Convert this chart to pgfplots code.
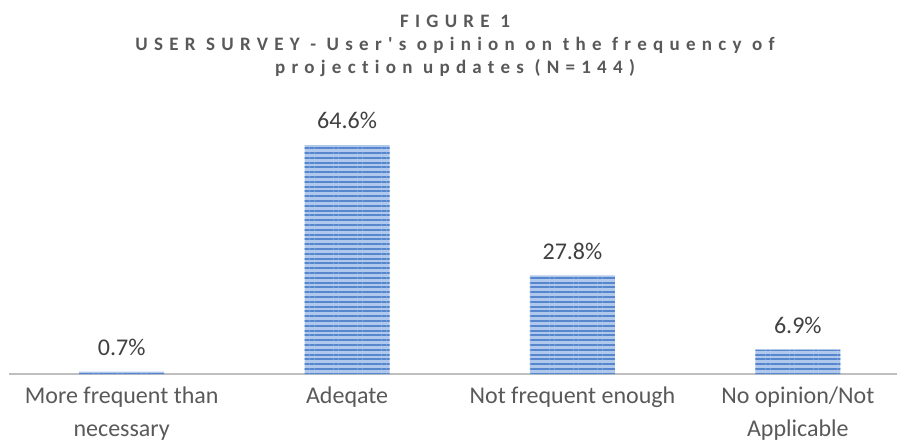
\documentclass[border=0pt]{standalone}
\usepackage{fontspec}
\setmainfont{Carlito}
\newfontfamily\titlefont[LetterSpace=33,Ligatures={NoCommon}]{Carlito}
\usepackage{pgfplots}
\pgfplotsset{compat=1.18}
\usetikzlibrary{patterns.meta}
\definecolor{barbase}{HTML}{AFC8EC}
\definecolor{barstripe}{HTML}{5686CE}
\definecolor{axgray}{HTML}{BFBFBF}
\definecolor{txtgray}{HTML}{595959}
\definecolor{lblgray}{HTML}{404040}
\begin{document}
\begin{tikzpicture}
\begin{axis}[
  at={(0,0)}, anchor=south west,
  scale only axis,
  width=444pt, height=124.075pt,
  xmin=-0.5, xmax=3.44,
  ymin=0, ymax=70,
  axis y line=none,
  axis x line*=bottom,
  x axis line style={draw=axgray, line width=1.3pt, -},
  xtick={0,1,2,3},
  xticklabels={{More frequent than\\necessary},{Adeqate},{Not frequent enough},{No opinion/Not\\Applicable}},
  major tick length=0pt,
  xticklabel style={font=\fontsize{12}{16.5}\selectfont, text=txtgray, align=center, yshift=-3pt},
  ybar, bar width=42.5pt,
  /pgf/number format/assume math mode=true,
  nodes near coords={\pgfmathprintnumber[fixed,fixed zerofill,precision=1,assume math mode=true]{\pgfplotspointmeta}\%},
  nodes near coords style={font=\fontsize{12}{14}\selectfont, text=lblgray, anchor=south, yshift=4.5pt},
  clip=false,
]
\addplot[fill=barbase, draw=none, postaction={pattern={Lines[angle=0,distance=2.4pt,line width=1pt]}, pattern color=barstripe}]
  coordinates {(0,0.7) (1,64.6) (2,27.8) (3,6.9)};
\end{axis}
\begin{scope}[every node/.style={anchor=base, inner sep=0pt, text=txtgray, font=\titlefont\bfseries\fontsize{9.5}{10}\selectfont}]
\node at (223pt,173.4pt) {FIGURE 1};
\node at (223pt,162pt) {USER SURVEY - User's opinion on the frequency of};
\node at (223pt,150.5pt) {projection updates (N=144)};
\end{scope}
\pgfresetboundingbox
\useasboundingbox (-4.5pt,-33.5pt) rectangle (444.5pt,187pt);
\end{tikzpicture}
\end{document}
